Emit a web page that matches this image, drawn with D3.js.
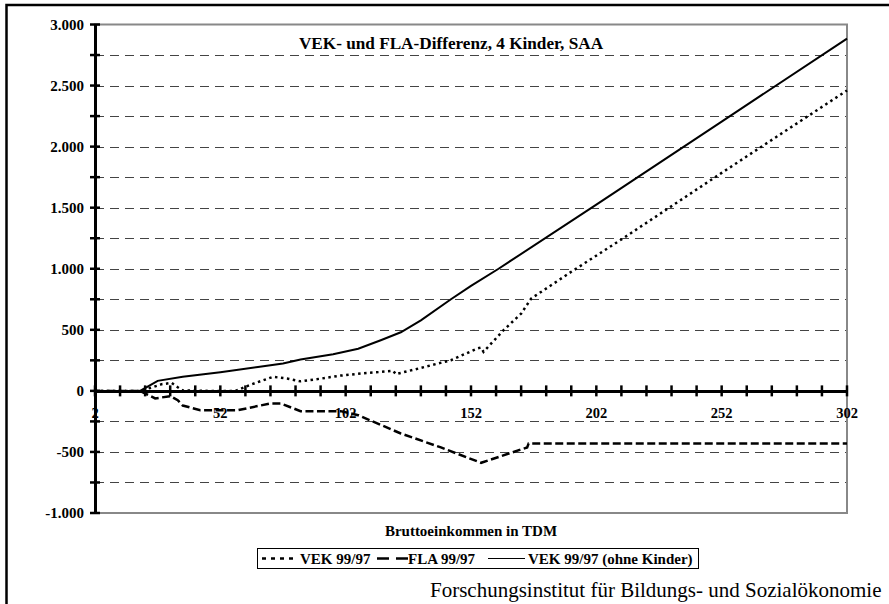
<!DOCTYPE html>
<html>
<head>
<meta charset="utf-8">
<script src="https://cdn.jsdelivr.net/npm/d3@7"></script>
<style>
  html, body { margin: 0; padding: 0; background: #fff; overflow: hidden; }
  svg { display: block; }
  text { font-family: "Times New Roman", "Liberation Serif", serif; }
</style>
</head>
<body>
<svg id="chart" width="889" height="604"></svg>
<script>
// ---- data ----
const chartTitle = "VEK- und FLA-Differenz, 4 Kinder, SAA";
const xAxisTitle = "Bruttoeinkommen in TDM";
const footerText = "Forschungsinstitut für Bildungs- und Sozialökonomie";

const xTickLabels = [2, 52, 102, 152, 202, 252, 302];
const yTickLabels = [-1000, -500, 0, 500, 1000, 1500, 2000, 2500, 3000];

const seriesNames = ["VEK 99/97", "FLA 99/97", "VEK 99/97 (ohne Kinder)"];

// VEK 99/97 (dotted)
const vekX = [2, 20, 25, 28.6, 32.6, 35, 37, 47, 58, 64, 73, 79, 84, 92, 100, 108, 116, 121, 122, 132, 144, 154.5, 156, 157, 165, 172, 176, 192, 212, 252, 302];
const vekY = [0, 0, 30, 55, 65, 30, 3, 0, 0, 50, 115, 100, 78, 100, 125, 142, 155, 164, 137, 188, 251, 347, 355, 320, 497, 633, 756, 975, 1240, 1785, 2460];

// FLA 99/97 (dashed)
const flaX = [2, 20, 26, 32, 35, 37, 44, 49, 59, 72, 76, 84, 100, 107, 124, 140, 156, 174.4, 175, 302];
const flaY = [0, 0, -62, -43, -76, -120, -158, -158, -158, -103, -103, -166, -166, -199, -349, -463, -589, -463, -430, -430];

// VEK 99/97 (ohne Kinder) (solid)
const ohneX = [2, 20, 27, 37, 52, 67, 77, 84, 97, 107, 116, 124, 132, 144, 152, 163, 202, 252, 302];
const ohneY = [0, 0, 82, 115, 153, 195, 224, 257, 300, 345, 415, 480, 578, 750, 860, 1000, 1525, 2205, 2885];

// ---- drawing ----
const svg = d3.select("#chart");
const plot = { left: 95, right: 847, top: 24.5, bottom: 513 };

const x = d3.scaleLinear().domain([2, 302]).range([plot.left, plot.right]);
const y = d3.scaleLinear().domain([-1000, 3000]).range([plot.bottom, plot.top]);

const de = d3.formatLocale({ decimal: ",", thousands: ".", grouping: [3], currency: ["", " €"], minus: "-" });
const fmt = de.format(",d");

// outer frame (left and top edges visible)
svg.append("rect")
  .attr("x", 6.5).attr("y", 5).attr("width", 1000).attr("height", 1000)
  .attr("fill", "#fff").attr("stroke", "#000").attr("stroke-width", 2.5);

// plot area border
svg.append("rect")
  .attr("x", plot.left).attr("y", plot.top)
  .attr("width", plot.right - plot.left).attr("height", plot.bottom - plot.top)
  .attr("fill", "#fff").attr("stroke", "#888").attr("stroke-width", 2);

// gridlines every 250 (dashed)
const gridVals = d3.range(-750, 3000, 250).filter(v => v !== 0);
svg.append("g").selectAll("line").data(gridVals).join("line")
  .attr("x1", plot.left).attr("x2", plot.right - 1)
  .attr("y1", d => Math.round(y(d)) + 0.5).attr("y2", d => Math.round(y(d)) + 0.5)
  .attr("stroke", "#444").attr("stroke-width", 1)
  .attr("stroke-dasharray", "9,6");

// title
svg.append("text")
  .attr("x", 451).attr("y", 49)
  .attr("text-anchor", "middle")
  .attr("font-weight", "bold").attr("font-size", 17.2)
  .text(chartTitle);

// y axis
const yAxis = d3.axisLeft(y)
  .tickValues(d3.range(-1000, 3001, 250))
  .tickSize(0)
  .tickFormat("");
const gy = svg.append("g").attr("transform", `translate(${plot.left},0)`).call(yAxis);
gy.select(".domain").attr("stroke", "#000").attr("stroke-width", 3);
svg.append("g").selectAll("line").data(d3.range(-1000, 3001, 250)).join("line")
  .attr("x1", plot.left - 5).attr("x2", plot.left + 5)
  .attr("y1", d => y(d)).attr("y2", d => y(d))
  .attr("stroke", "#000").attr("stroke-width", 2.5);
svg.append("g").selectAll("text").data(yTickLabels).join("text")
  .attr("x", 84).attr("y", d => y(d))
  .attr("dy", "0.35em")
  .attr("text-anchor", "end")
  .attr("font-weight", "bold").attr("font-size", 15)
  .text(d => fmt(d));

// x tick labels (below zero line)
svg.append("g").selectAll("text").data(xTickLabels).join("text")
  .attr("x", d => x(d)).attr("y", 418)
  .attr("text-anchor", "middle")
  .attr("font-weight", "bold").attr("font-size", 14.5)
  .text(d => d);

// series lines
const line = d3.line().x(d => x(d[0])).y(d => y(d[1]));
const zip = (a, b) => a.map((v, i) => [v, b[i]]);

svg.append("path").datum(zip(vekX, vekY))
  .attr("d", line).attr("fill", "none")
  .attr("stroke", "#000").attr("stroke-width", 2.5)
  .attr("stroke-dasharray", "2.5,3.5");

svg.append("path").datum(zip(flaX, flaY))
  .attr("d", line).attr("fill", "none")
  .attr("stroke", "#000").attr("stroke-width", 2.5)
  .attr("stroke-dasharray", "8,3.5");

svg.append("path").datum(zip(ohneX, ohneY))
  .attr("d", line).attr("fill", "none")
  .attr("stroke", "#000").attr("stroke-width", 2);

// x axis at zero
const xAxis = d3.axisBottom(x).tickValues(d3.range(2, 303, 10)).tickSize(0).tickFormat("");
const gx = svg.append("g").attr("transform", `translate(0,${y(0)})`).call(xAxis);
gx.select(".domain").attr("stroke", "#000").attr("stroke-width", 3);
svg.append("g").selectAll("line").data(d3.range(2, 303, 10)).join("line")
  .attr("x1", d => x(d)).attr("x2", d => x(d))
  .attr("y1", y(0) - 5.5).attr("y2", y(0) + 5.5)
  .attr("stroke", "#000").attr("stroke-width", 2.5);

// x axis title
svg.append("text")
  .attr("x", 471).attr("y", 536)
  .attr("text-anchor", "middle")
  .attr("font-weight", "bold").attr("font-size", 15)
  .text(xAxisTitle);

// legend
const lg = svg.append("g");
lg.append("rect").attr("x", 257.5).attr("y", 548.5).attr("width", 441).attr("height", 20)
  .attr("fill", "#fff").attr("stroke", "#000").attr("stroke-width", 1);
const legendItems = [
  { name: seriesNames[0], x1: 262, x2: 293, tx: 300, dash: "4,5", w: 2.5 },
  { name: seriesNames[1], x1: 377, x2: 408, tx: 408, dash: "12,7", w: 2.5 },
  { name: seriesNames[2], x1: 488, x2: 525, tx: 528, dash: null, w: 1.2 }
];
legendItems.forEach(it => {
  lg.append("line").attr("x1", it.x1).attr("x2", it.x2).attr("y1", 558.5).attr("y2", 558.5)
    .attr("stroke", "#000").attr("stroke-width", it.w)
    .attr("stroke-dasharray", it.dash);
  lg.append("text").attr("x", it.tx).attr("y", 563.5)
    .attr("font-weight", "bold").attr("font-size", 15)
    .text(it.name);
});

// footer
svg.append("text")
  .attr("x", 430).attr("y", 597)
  .attr("font-size", 21)
  .text(footerText);
</script>
</body>
</html>
